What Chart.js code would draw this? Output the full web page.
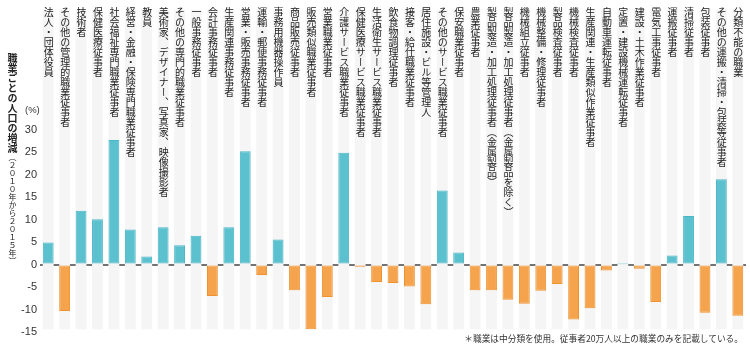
<!DOCTYPE html>
<html>
<head>
<meta charset="utf-8">
<script src="https://cdn.jsdelivr.net/npm/chart.js@4/dist/chart.umd.min.js"></script>
<style>
  html, body { margin:0; padding:0; background:#fff; }
  #wrap { position:relative; width:750px; height:350px; overflow:hidden; }
  #c { position:absolute; left:0; top:0; }
  .cat { position:absolute; top:7px; width:12px; writing-mode:vertical-rl; text-orientation:mixed;
         font-family:'Noto Sans CJK JP', sans-serif; font-size:10px; line-height:12px; color:#222; white-space:nowrap; }
  #ytitle { position:absolute; left:5px; top:53px; width:14px; writing-mode:vertical-rl; text-orientation:mixed;
            font-family:'Noto Sans CJK JP', sans-serif; color:#222; line-height:14px; white-space:nowrap; }
  #ytitle b { font-size:10px; font-weight:bold; }
  #ytitle span { font-size:8px; }
  #unit { position:absolute; left:25px; top:104px; font-family:'Liberation Sans', sans-serif; font-size:9.5px; color:#333; }
  #note { position:absolute; right:7px; top:333px; font-family:'Noto Sans CJK JP', sans-serif; font-size:8.7px; color:#333; white-space:nowrap; line-height:12px; }
</style>
</head>
<body>
<div id="wrap">
  <canvas id="c" width="750" height="350"></canvas>
  <div id="ytitle"><b>職業ごとの人口の増減</b><span>（２０１０年から２０１５年）</span></div>
  <div id="unit">(%)</div>
  <div id="note">＊職業は中分類を使用。従事者20万人以上の職業のみを記載している。</div>
</div>
<script>
const categories = [
  "法人・団体役員",
  "その他の管理的職業従事者",
  "技術者",
  "保健医療従事者",
  "社会福祉専門職業従事者",
  "経営・金融・保険専門職業従事者",
  "教員",
  "美術家、デザイナー、写真家、映像撮影者",
  "その他の専門的職業従事者",
  "一般事務従事者",
  "会計事務従事者",
  "生産関連事務従事者",
  "営業・販売事務従事者",
  "運輸・郵便事務従事者",
  "事務用機器操作員",
  "商品販売従事者",
  "販売類似職業従事者",
  "営業職業従事者",
  "介護サービス職業従事者",
  "保健医療サービス職業従事者",
  "生活衛生サービス職業従事者",
  "飲食物調理従事者",
  "接客・給仕職業従事者",
  "居住施設・ビル等管理人",
  "その他のサービス職業従事者",
  "保安職業従事者",
  "農業従事者",
  "製品製造・加工処理従事者（金属製品）",
  "製品製造・加工処理従事者（金属製品を除く）",
  "機械組立従事者",
  "機械整備・修理従事者",
  "製品検査従事者",
  "機械検査従事者",
  "生産関連・生産類似作業従事者",
  "自動車運転従事者",
  "定置・建設機械運転従事者",
  "建設・土木作業従事者",
  "電気工事従事者",
  "運搬従事者",
  "清掃従事者",
  "包装従事者",
  "その他の運搬・清掃・包装等従事者",
  "分類不能の職業"
];
const changes = [
  4.9, -10.3, 12.0, 10.1, 27.7, 7.8, 1.8, 8.3, 4.3, 6.4,
  -7.0, 8.3, 25.2, -2.3, 5.6, -5.7, -14.4, -7.2, 24.9, -0.5,
  -3.9, -4.1, -4.9, -8.8, 16.5, 2.7, -5.7, -5.7, -7.8, -8.7,
  -5.8, -4.3, -12.2, -9.7, -1.3, 0.1, -0.9, -8.3, 2.0, 10.8,
  -10.7, 19.0, -11.4
];
const yTickValues = [-15, -10, -5, 0, 5, 10, 15, 20, 25, 30];
const columnBottom = -14.4;

const POS = '#5cc1cf', POS_B = '#47b6c6';
const NEG = '#f5a34c', NEG_B = '#f0932f';
const COL = '#f5f5f5';

const columnsPlugin = {
  id: 'columns',
  beforeDatasetsDraw(chart) {
    const ctx = chart.ctx, xs = chart.scales.x, ys = chart.scales.y;
    const meta = chart.getDatasetMeta(0);
    const top = chart.chartArea.top;
    const bottom = ys.getPixelForValue(columnBottom);
    ctx.save();
    ctx.fillStyle = COL;
    meta.data.forEach((el, i) => {
      const x = xs.getPixelForValue(i);
      const w = el.width;
      ctx.fillRect(x - w / 2, top, w, bottom - top);
    });
    ctx.restore();
  }
};

const chart = new Chart(document.getElementById('c'), {
  type: 'bar',
  data: {
    labels: categories,
    datasets: [{
      data: changes,
      backgroundColor: ctx => ctx.raw >= 0 ? POS : NEG,
      borderColor: ctx => ctx.raw >= 0 ? POS_B : NEG_B,
      borderWidth: 1,
      borderSkipped: false,
      categoryPercentage: 1.0,
      barPercentage: 0.66
    }]
  },
  options: {
    responsive: false,
    animation: false,
    devicePixelRatio: 1,
    layout: { padding: { top: 2, bottom: 18, left: 0, right: 4 } },
    plugins: { legend: { display: false }, tooltip: { enabled: false } },
    scales: {
      x: { type: 'category', display: false, offset: true },
      y: {
        min: -15,
        max: 56.74,
        z: 1,
        border: { display: false },
        afterFit: s => { s.width = 40; },
        afterBuildTicks: s => { s.ticks = yTickValues.map(v => ({ value: v })); },
        ticks: {
          padding: 3,
          color: '#333',
          font: { family: 'Liberation Sans', size: 11 },
          callback: v => String(v)
        },
        grid: {
          drawTicks: false,
          color: ctx => (ctx.tick && ctx.tick.value === 0) ? '#737373' : 'rgba(0,0,0,0)',
          lineWidth: ctx => (ctx.tick && ctx.tick.value === 0) ? 2 : 0
        }
      }
    }
  },
  plugins: [columnsPlugin]
});

const wrap = document.getElementById('wrap');
const xs = chart.scales.x;
categories.forEach((c, i) => {
  const d = document.createElement('div');
  d.className = 'cat';
  d.textContent = c;
  d.style.left = (xs.getPixelForValue(i) - 6) + 'px';
  wrap.appendChild(d);
});
</script>
</body>
</html>
